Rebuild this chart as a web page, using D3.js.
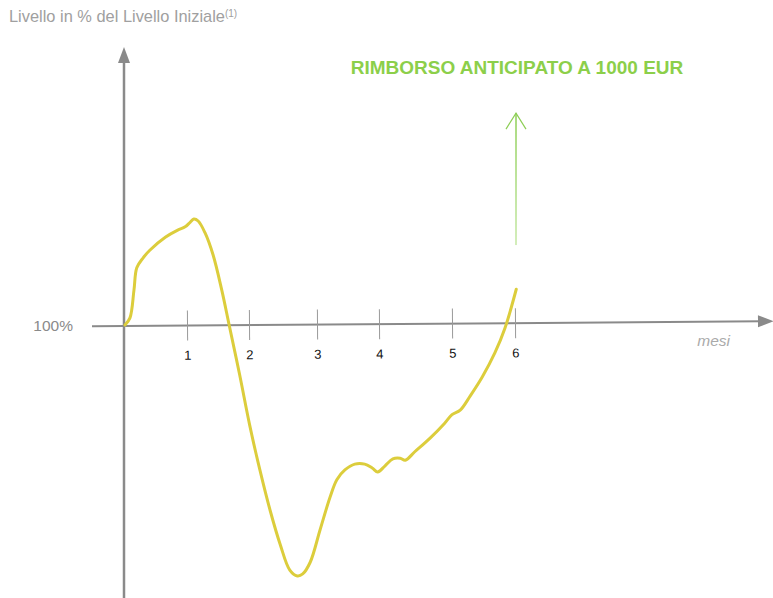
<!DOCTYPE html>
<html><head><meta charset="utf-8">
<script src="https://cdn.jsdelivr.net/npm/d3@7"></script>
<style>body{margin:0;background:#fff}svg{display:block;font-family:"Liberation Sans",Arial,sans-serif}</style>
</head><body><svg id="c" width="773" height="598"></svg>
<script>
// Data
const months = [0,1,2,3,4,5,6];
const tickLabels = ["1","2","3","4","5","6"];
const curveMonths = [0,0.08,0.145,0.19,0.29,0.40,0.65,0.85,0.97,1.05,1.11,1.18,1.29,1.42,1.56,1.68,1.85,2.01,2.16,2.31,2.46,2.60,2.71,2.79,2.90,3.05,3.21,3.32,3.45,3.61,3.77,3.89,3.98,4.08,4.19,4.29,4.36,4.49,4.70,4.90,5.0,5.13,5.29,5.48,5.68,5.84,6.02];
const curveLevels = [100,101.1,105.4,108.8,110.3,111.5,113.5,114.6,115.1,115.8,116.3,116.0,114.2,110.8,105.4,100,92.3,84.6,77.7,71.5,66.2,62.3,61.4,61.7,63.5,68.5,73.5,76.2,77.7,78.6,78.6,78.0,77.4,78.3,79.4,79.5,79.2,80.5,82.6,84.9,86.2,86.9,89.1,92.0,95.7,99.5,105.5];
const baseLevel = 100;
const redemptionMonth = 6;
const redemptionArrow = [112.3, 132.6]; // levels of arrow bottom/top
const titleText = "Livello in % del Livello Iniziale";
const noteText = "(1)";
const headline = "RIMBORSO ANTICIPATO A 1000 EUR";
const xName = "mesi";

const svg = d3.select("#c");
const x = d3.scaleLinear().domain(months).range([125,187,249,317,379,452,515]);
const y = d3.scaleLinear().domain([60,130]).range([585,130]);
const gray = "#8a8a8a";

// title
const t = svg.append("text").attr("x",9).attr("y",22).attr("fill","#a0a0a0").attr("font-size",16.4).text(titleText);
t.append("tspan").attr("font-size",10).attr("dy",-5).text(noteText);

// y axis
svg.append("line").attr("x1",124).attr("x2",124).attr("y1",598).attr("y2",60).attr("stroke",gray).attr("stroke-width",2.5);
svg.append("path").attr("d","M124,47 L118,63 L130,63 Z").attr("fill",gray);

// x axis (slightly tilted)
const ax = svg.append("g").attr("transform",`rotate(-0.42,${x(0)},${y(baseLevel)})`);
ax.append("line").attr("x1",92).attr("x2",762).attr("y1",y(baseLevel)+1).attr("y2",y(baseLevel)+1).attr("stroke",gray).attr("stroke-width",2);
ax.append("path").attr("d",`M774,${y(baseLevel)+1} L758,${y(baseLevel)-5} L758,${y(baseLevel)+7} Z`).attr("fill",gray);
const axis = d3.axisBottom(x).tickValues(months.slice(1)).tickFormat((d,i)=>tickLabels[i]).tickSize(15).tickPadding(10);
const g = ax.append("g").attr("transform",`translate(0,${y(baseLevel)+1})`).call(axis);
g.select(".domain").remove();
g.selectAll(".tick line").attr("y1",-15).attr("stroke","#999").attr("stroke-width",1);
g.selectAll(".tick text").attr("font-size",13).attr("fill","#111").attr("font-family","Liberation Sans, Arial, sans-serif");

svg.append("text").attr("x",73).attr("y",y(baseLevel)+6).attr("text-anchor","end").attr("fill",gray).attr("font-size",15.5).text("100%");
svg.append("text").attr("x",730).attr("y",346).attr("text-anchor","end").attr("fill","#aaa").attr("font-size",15.5).attr("font-style","italic").text(xName);

// curve
const pts = curveMonths.map((m,i)=>[m,curveLevels[i]]);
svg.append("path").datum(pts)
  .attr("d",d3.line().x(d=>x(d[0])).y(d=>y(d[1])).curve(d3.curveCatmullRom.alpha(0.5)))
  .attr("fill","none").attr("stroke","#dccd3c").attr("stroke-width",3).attr("stroke-linecap","round");

// green arrow
const defs = svg.append("defs");
const gr = defs.append("linearGradient").attr("id","ga").attr("x1",0).attr("x2",0).attr("y1",1).attr("y2",0);
gr.append("stop").attr("offset",0).attr("stop-color","#c5e8a4");
gr.append("stop").attr("offset",1).attr("stop-color","#8dce55");
const ax0 = x(redemptionMonth)+1;
svg.append("rect").attr("x",ax0-0.75).attr("width",1.5).attr("y",y(redemptionArrow[1])).attr("height",y(redemptionArrow[0])-y(redemptionArrow[1])).attr("fill","url(#ga)");
svg.append("path").attr("d",`M${ax0-10},${y(redemptionArrow[1])+16} L${ax0},${y(redemptionArrow[1])} L${ax0+10},${y(redemptionArrow[1])+16}`)
  .attr("fill","none").attr("stroke","#8dce55").attr("stroke-width",1.2);

svg.append("text").attr("x",517).attr("y",74).attr("text-anchor","middle").attr("fill","#8ccf4a").attr("font-size",19).attr("font-weight","bold").text(headline);
</script></body></html>
